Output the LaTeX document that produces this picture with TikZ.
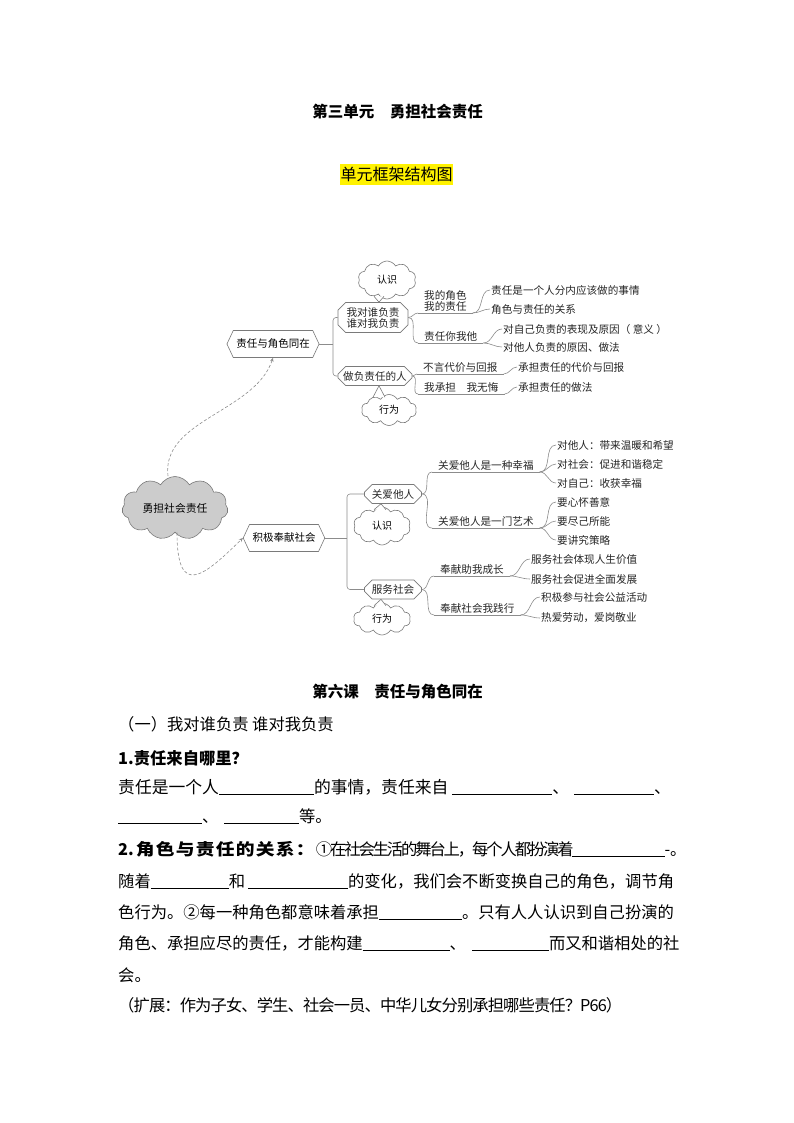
\documentclass[tikz,border=0pt]{standalone}
\usepackage{graphicx}
\usepackage{fontspec}
\setmainfont{Noto Sans CJK SC}
\usetikzlibrary{shapes.symbols,shapes.misc,arrows.meta}
\definecolor{linegray}{HTML}{8C8C8C}
\definecolor{boxgray}{HTML}{7A7A7A}
\definecolor{cloudfill}{HTML}{CCCCCC}
\newcommand\myblank[1]{\rule[-1.5pt]{#1pt}{0.7pt}}
% character tracking: \trackit{kern}{text without spaces}
\newcommand\trackit[2]{\def\trkamt{#1}\trkloop#2\relax}
\def\trkloop#1{\ifx\relax#1\else#1\kern\trkamt\expandafter\trkloop\fi}
\tikzset{
  conn/.style={draw=linegray, line width=0.6pt},
  dashconn/.style={draw=linegray, line width=0.6pt, dash pattern=on 3pt off 2pt, -{Stealth[length=4pt,width=3.5pt]}},
  mm/.style={font=\fontsize{10.6}{11}\selectfont, text=black!85},
  leaf/.style={mm, anchor=west, inner xsep=1pt, inner ysep=1pt},
  mid/.style={mm, anchor=south west, inner xsep=6pt, inner ysep=1.5pt, align=left},
  hexbox/.style={signal, signal to=west and east, signal pointer angle=130, draw=boxgray, line width=0.6pt, font=\fontsize{10.5}{12}\selectfont, inner xsep=3pt, minimum height=27pt},
  chbox/.style={chamfered rectangle, chamfered rectangle xsep=4pt, draw=boxgray, line width=0.6pt, fill=white, mm, inner sep=1pt},
  smcloud/.style={cloud, cloud puffs=10, cloud puff arc=120, cloud ignores aspect, draw=boxgray, line width=0.6pt, fill=white, font=\fontsize{10}{11}\selectfont, inner sep=0pt},
  maincloud/.style={cloud, cloud puffs=11, cloud puff arc=120, cloud ignores aspect, draw=boxgray, line width=0.6pt, fill=cloudfill, font=\fontsize{10.8}{12}\selectfont, inner sep=0pt, minimum width=106pt, minimum height=63pt},
  tailfill/.style={fill=white},
  tailline/.style={draw=boxgray, line width=0.6pt},
  body/.style={anchor=west, inner sep=0pt, font=\fontsize{16.3}{18}\selectfont},
  headline/.style={inner sep=0pt, font=\bfseries\fontsize{15.5}{18}\selectfont}
}
\begin{document}
\begin{tikzpicture}[x=1pt,y=-1pt]
\useasboundingbox[fill=white] (0,0) rectangle (794,1123);

% ---- headings
\node[headline] (title) at (397.5,112) {第三单元　勇担社会责任};
\node[fill=yellow, inner xsep=0.5pt, inner ysep=3pt, font=\fontsize{16}{18}\selectfont] (sub) at (396.5,174.5) {单元框架结构图};

% ---- mind map: main nodes
\node[maincloud] (mc) at (175,508) {勇担社会责任};
\node[hexbox, minimum width=90pt] (h1) at (273,344) {责任与角色同在};
\node[hexbox, minimum width=78pt] (h2) at (284,538) {积极奉献社会};
\coordinate (j1) at (333,344);
\coordinate (j2) at (347,538);

\node[chbox, minimum width=70pt, minimum height=29pt, align=center] (b1) at (373,317.5) {我对谁负责\\谁对我负责};
\node[chbox, minimum width=74pt, minimum height=16pt] (b2) at (375,376) {做负责任的人};
\node[chbox, minimum width=57pt, minimum height=15pt] (b3) at (393,494) {关爱他人};
\node[chbox, minimum width=57pt, minimum height=15pt] (b4) at (393,589.5) {服务社会};

% brackets
\draw[conn] (h1.east) -- (j1);
\draw[conn, rounded corners=3pt] (b1.west) -| (j1) |- (b2.west);
\draw[conn] (h2.east) -- (j2);
\draw[conn, rounded corners=3pt] (b3.west) -| (j2) |- (b4.west);

% dashed links
\draw[dashconn] ([xshift=-7pt]mc.north) .. controls (161,420) and (255,412) .. (h1.south);
\draw[dashconn] ([xshift=2pt]mc.south) .. controls (177,600) and (205,575) .. (h2.west);

% small clouds
\node[smcloud, minimum width=58pt, minimum height=38pt] (c1) at (387,280) {认识};
\node[smcloud, minimum width=55pt, minimum height=31pt] (c2) at (389,410) {行为};
\node[smcloud, minimum width=57pt, minimum height=38pt] (c3) at (382,526) {认识};
\node[smcloud, minimum width=57pt, minimum height=32pt] (c4) at (382,619) {行为};

% cloud tails
\fill[tailfill] ([shift={(-13pt,3pt)}]c1.south) -- ([xshift=6pt]b1.north) -- ([shift={(-3pt,3pt)}]c1.south) -- cycle;
\draw[tailline] ([shift={(-13pt,3pt)}]c1.south) -- ([xshift=6pt]b1.north) -- ([shift={(-3pt,3pt)}]c1.south);
\fill[tailfill] ([shift={(-16pt,-3pt)}]c2.north) -- ([xshift=4pt]b2.south) -- ([shift={(-4pt,-3pt)}]c2.north) -- cycle;
\draw[tailline] ([shift={(-16pt,-3pt)}]c2.north) -- ([xshift=4pt]b2.south) -- ([shift={(-4pt,-3pt)}]c2.north);
\fill[tailfill] ([shift={(-8pt,-3pt)}]c3.north) -- ([xshift=-12pt]b3.south) -- ([shift={(4pt,-3pt)}]c3.north) -- cycle;
\draw[tailline] ([shift={(-8pt,-3pt)}]c3.north) -- ([xshift=-12pt]b3.south) -- ([shift={(4pt,-3pt)}]c3.north);
\fill[tailfill] ([shift={(-8pt,-3pt)}]c4.north) -- ([xshift=-12pt]b4.south) -- ([shift={(4pt,-3pt)}]c4.north) -- cycle;
\draw[tailline] ([shift={(-8pt,-3pt)}]c4.north) -- ([xshift=-12pt]b4.south) -- ([shift={(4pt,-3pt)}]c4.north);

% ---- second level (underlined)
\node[mid] (m1) at (418,313) {我的角色\\我的责任};
\node[mid] (m2) at (418,343) {责任你我他};
\node[mid] (m3) at (417,374) {不言代价与回报};
\node[mid] (m4) at (418,394) {我承担　我无悔};
\node[mid] (m5) at (432,472) {关爱他人是一种幸福};
\node[mid] (m6) at (432,528) {关爱他人是一门艺术};
\node[mid] (m7) at (434,576) {奉献助我成长};
\node[mid] (m8) at (434,615) {奉献社会我践行};
\foreach \m in {m1,m2,m3,m4,m5,m6,m7,m8}
  \draw[conn] (\m.south west) -- (\m.south east);

\draw[conn] (b1.east) to[out=0,in=180] (m1.south west);
\draw[conn] (b1.east) to[out=0,in=180] (m2.south west);
\draw[conn] (b2.east) to[out=0,in=180] (m3.south west);
\draw[conn] (b2.east) to[out=0,in=180] (m4.south west);
\draw[conn] (b3.east) to[out=0,in=180] (m5.south west);
\draw[conn] (b3.east) to[out=0,in=180] (m6.south west);
\draw[conn] (b4.east) to[out=0,in=180] (m7.south west);
\draw[conn] (b4.east) to[out=0,in=180] (m8.south west);

% ---- leaves
\node[leaf] (l1) at (490,290) {责任是一个人分内应该做的事情};
\node[leaf] (l2) at (490,309) {角色与责任的关系};
\node[leaf] (l3) at (502,329) {对自己负责的表现及原因（ 意义 ）};
\node[leaf] (l4) at (502,347) {对他人负责的原因、做法};
\node[leaf] (l5) at (517,367) {承担责任的代价与回报};
\node[leaf] (l6) at (517,387) {承担责任的做法};
\node[leaf] (l7) at (556,445) {对他人：带来温暖和希望};
\node[leaf] (l8) at (556,464) {对社会：促进和谐稳定};
\node[leaf] (l9) at (556,483) {对自己：收获幸福};
\node[leaf] (l10) at (556,502) {要心怀善意};
\node[leaf] (l11) at (556,521) {要尽己所能};
\node[leaf] (l12) at (556,540) {要讲究策略};
\node[leaf] (l13) at (530,559) {服务社会体现人生价值};
\node[leaf] (l14) at (530,579) {服务社会促进全面发展};
\node[leaf] (l15) at (540,597) {积极参与社会公益活动};
\node[leaf] (l16) at (540,618) {热爱劳动，爱岗敬业};

\foreach \p/\c in {m1/l1,m1/l2,m2/l3,m2/l4,m3/l5,m4/l6,m5/l7,m5/l8,m5/l9,m6/l10,m6/l11,m6/l12,m7/l13,m7/l14,m8/l15,m8/l16}
  \draw[conn] (\p.south east) to[out=0,in=180] (\c.west);

% ---- lesson text
\node[headline] (lesson) at (397.5,692) {第六课　责任与角色同在};
\node[body] (p1) at (118,724) {（一）我对谁负责 谁对我负责};
\node[body] (p2) at (118,758) {\bfseries 1.责任来自哪里？};
\node[body, font=\fontsize{16.8}{18}\selectfont] (p3) at (118,787) {责任是一个人\myblank{95}的事情，责任来自\hspace{4pt}\myblank{100}、\hspace{5pt}\myblank{80}、};
\node[body] (p4) at (118,816) {\myblank{84}、\hspace{5.5pt}\myblank{75}等。};
\node[body] (p5) at (118,849) {\textbf{2.\hspace{2pt}\scalebox{1.15}[1]{\trackit{1.1pt}{角色与责任的关系：}}}\trackit{-2.1pt}{①在社会生活的舞台上，每个人都扮演着}\myblank{93}-。};
\node[body] (p6) at (118,881) {随着\myblank{78}和\hspace{3pt}\myblank{100}的变化，我们会不断变换自己的角色，调节角};
\node[body] (p7) at (118,912) {色行为。②每一种角色都意味着承担\myblank{83}。只有人人认识到自己扮演的};
\node[body] (p8) at (118,943) {角色、承担应尽的责任，才能构建\myblank{87}、\hspace{6pt}\myblank{77}而又和谐相处的社};
\node[body] (p9) at (118,975) {会。};
\node[body] (p10) at (118,1005) {\trackit{-0.9pt}{（扩展：作为子女、学生、社会一员、中华儿女分别承担哪些责任？P66）}};
\end{tikzpicture}
\end{document}
